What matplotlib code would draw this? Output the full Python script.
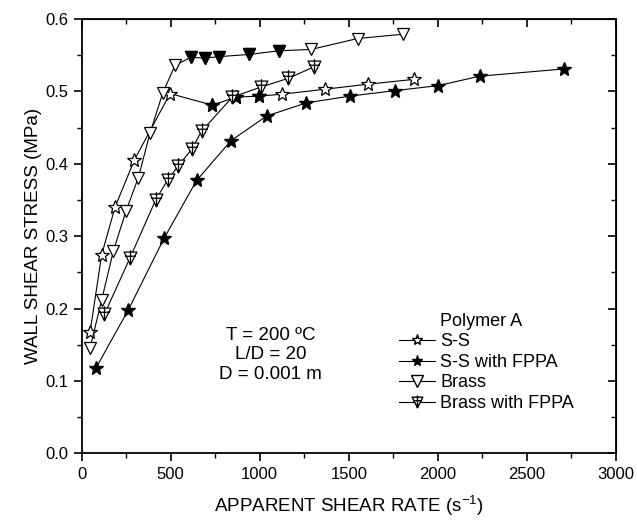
import numpy as np
import matplotlib
matplotlib.use("Agg")
import matplotlib.pyplot as plt
from matplotlib.path import Path
from matplotlib.lines import Line2D
from matplotlib.ticker import MultipleLocator

plt.rcParams['font.family'] = ['Liberation Sans', 'DejaVu Sans']

# ---- data ----
ss_x = [48, 113, 188, 296, 497, 734, 865, 998, 1123, 1366, 1610, 1866]
ss_y = [0.168, 0.2745, 0.340, 0.405, 0.497, 0.481, 0.492, 0.4935, 0.496, 0.503, 0.510, 0.5166]
ss_solid = [0, 0, 0, 0, 0, 1, 1, 1, 0, 0, 0, 0]

ssf_x = [81, 263, 463, 646, 839, 1039, 1260, 1507, 1759, 2002, 2236, 2708]
ssf_y = [0.118, 0.1985, 0.297, 0.377, 0.432, 0.466, 0.484, 0.4935, 0.501, 0.508, 0.521, 0.531]

br_x = [48, 113, 179, 250, 319, 384, 456, 525, 613, 693, 773, 940, 1108, 1290, 1550, 1806]
br_y = [0.146, 0.212, 0.280, 0.335, 0.381, 0.442, 0.498, 0.536, 0.547, 0.546, 0.548, 0.551,
        0.556, 0.558, 0.573, 0.579]
br_solid = [0, 0, 0, 0, 0, 0, 0, 0, 1, 1, 1, 1, 1, 0, 0, 0]

brf_x = [128, 272, 416, 484, 543, 618, 674, 846, 1007, 1160, 1306]
brf_y = [0.192, 0.270, 0.350, 0.378, 0.397, 0.420, 0.445, 0.492, 0.506, 0.518, 0.534]

labels = ['S-S', 'S-S with FPPA', 'Brass', 'Brass with FPPA']

# triangle with a cross inside
tri_plus = Path(
    [(-1, 1), (1, 1), (0, -1), (-1, 1), (-0.85, 0.35), (0.85, 0.35), (0, 1.3), (0, -1)],
    [Path.MOVETO, Path.LINETO, Path.LINETO, Path.CLOSEPOLY,
     Path.MOVETO, Path.LINETO, Path.MOVETO, Path.LINETO])

fig = plt.figure(figsize=(6.37, 5.21), dpi=100)
ax = fig.add_axes([0.128, 0.1296, 0.839, 0.834])

lw = 0.8
ax.plot(ss_x, ss_y, '-', color='k', lw=lw, marker='*', ms=10, mfc='white', mec='k', mew=0.9)
m = np.array(ss_solid, bool)
ax.plot(np.array(ss_x)[m], np.array(ss_y)[m], ls='none', marker='*', ms=10, mfc='k', mec='k')

ax.plot(ssf_x, ssf_y, '-', color='k', lw=lw, marker='*', ms=10, mfc='k', mec='k')

ax.plot(br_x, br_y, '-', color='k', lw=lw, marker='v', ms=9, mfc='white', mec='k', mew=0.9)
m = np.array(br_solid, bool)
ax.plot(np.array(br_x)[m], np.array(br_y)[m], ls='none', marker='v', ms=9, mfc='k', mec='k')

ax.plot(brf_x, brf_y, '-', color='k', lw=lw, marker=tri_plus, ms=12, mfc='white', mec='k', mew=0.9)

ax.set_xlim(0, 3000)
ax.set_ylim(0, 0.6)
ax.xaxis.set_major_locator(MultipleLocator(500))
ax.xaxis.set_minor_locator(MultipleLocator(250))
ax.yaxis.set_major_locator(MultipleLocator(0.1))
ax.yaxis.set_minor_locator(MultipleLocator(0.05))
ax.yaxis.set_major_formatter(matplotlib.ticker.FormatStrFormatter('%.1f'))
ax.tick_params(which='major', direction='out', length=6, width=1.2, labelsize=12)
ax.tick_params(which='minor', direction='out', length=3.5, width=1.0)
for s in ax.spines.values():
    s.set_linewidth(1.3)

# mirrored ticks on top / right, pointing inwards
top = ax.secondary_xaxis('top')
top.xaxis.set_major_locator(MultipleLocator(500))
top.xaxis.set_minor_locator(MultipleLocator(250))
top.tick_params(which='major', direction='in', length=6, width=1.2, labeltop=False)
top.tick_params(which='minor', direction='in', length=3.5, width=1.0)
right = ax.secondary_yaxis('right')
right.yaxis.set_major_locator(MultipleLocator(0.1))
right.yaxis.set_minor_locator(MultipleLocator(0.05))
right.tick_params(which='major', direction='in', length=6, width=1.2, labelright=False)
right.tick_params(which='minor', direction='in', length=3.5, width=1.0)

ax.set_xlabel('APPARENT SHEAR RATE (s$^{\\mathregular{-1}}$)', fontsize=13.5, labelpad=8)
ax.set_ylabel('WALL SHEAR STRESS (MPa)', fontsize=13.5, labelpad=2)

ax.text(1060, 0.136, 'T = 200 ºC\nL/D = 20\nD = 0.001 m', ha='center', va='center',
        fontsize=13.5, linespacing=1.2)

handles = [
    Line2D([], [], ls='none', marker=None),
    Line2D([], [], color='k', lw=lw, marker='*', ms=8, mfc='white', mec='k'),
    Line2D([], [], color='k', lw=lw, marker='*', ms=8, mfc='k', mec='k'),
    Line2D([], [], color='k', lw=lw, marker='v', ms=8, mfc='white', mec='k'),
    Line2D([], [], color='k', lw=lw, marker=tri_plus, ms=10, mfc='white', mec='k'),
]
leg = ax.legend(handles, ['Polymer A'] + labels, loc='upper left',
                bbox_to_anchor=(0.577, 0.345), frameon=False, fontsize=13,
                handlelength=2.0, handletextpad=0.3, labelspacing=0.2, borderpad=0)

fig.savefig('out.png', dpi=100)
